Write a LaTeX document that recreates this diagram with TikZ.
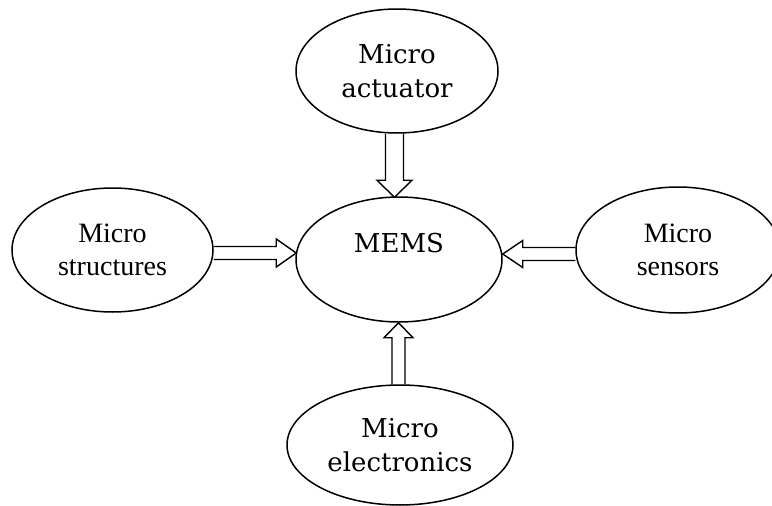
\documentclass[tikz,border=0pt]{standalone}
\usepackage{fontspec}
\setmainfont{Liberation Serif}
\newfontfamily\geofont{DejaVu Serif}
\usetikzlibrary{shapes.geometric,calc}
\tikzset{
  ell/.style={ellipse, draw, line width=1.5pt, inner sep=0pt, align=center},
  geotext/.style={font=\geofont\fontsize{26}{34}\selectfont},
  timestext/.style={font=\fontsize{28}{33}\selectfont},
  blockline/.style={line width=1.4pt, line join=miter}
}
% #1 start, #2 tip, #3 half shaft, #4 half head, #5 head length
\newcommand\blockarrow[5]{%
  \coordinate (hb) at ($(#2)!#5!(#1)$);
  \draw[blockline] ($(#1)!#3!90:(#2)$) -- ($(hb)!#3!90:(#2)$) -- ($(hb)!#4!90:(#2)$)
    -- (#2) -- ($(hb)!#4!-90:(#2)$) -- ($(hb)!#3!-90:(#2)$) -- ($(#1)!#3!-90:(#2)$);
}
\begin{document}
\begin{tikzpicture}[x=1pt,y=-1pt]
\useasboundingbox (0,0) rectangle (772,506);
\fill[white] (0,0) rectangle (772,506);
\node[ell, geotext, minimum width=202, minimum height=124] (A) at (397,71) {Micro\\actuator};
\node[ell, geotext, minimum width=206, minimum height=125] (C) at (399,259.5) {MEMS\\\mbox{}};
\node[ell, timestext, minimum width=201, minimum height=124] (L) at (112.5,250) {Micro\\structures};
\node[ell, timestext, minimum width=204, minimum height=126] (R) at (678,250) {Micro\\sensors};
\node[ell, geotext, minimum width=226, minimum height=120] (B) at (400,445) {Micro\\electronics};
% arrow end points
\coordinate (tA) at ($(C.north)+(-4.5,1)$);
\coordinate (sA) at (tA |- A.south);
\coordinate (tL) at ($(C.west)+(1,-6.5)$);
\coordinate (sL) at (L.east |- tL);
\coordinate (tR) at ($(C.east)+(0,-5.5)$);
\coordinate (sR) at (R.west |- tR);
\coordinate (tB) at ($(C.south)+(-0.5,0)$);
\coordinate (sB) at (tB |- B.north);
\blockarrow{sA}{tA}{9pt}{17.5pt}{17pt}
\blockarrow{sL}{tL}{6.5pt}{14pt}{20pt}
\blockarrow{sR}{tR}{6.5pt}{13.5pt}{20pt}
\blockarrow{sB}{tB}{6.5pt}{14.5pt}{15pt}
\end{tikzpicture}
\end{document}
